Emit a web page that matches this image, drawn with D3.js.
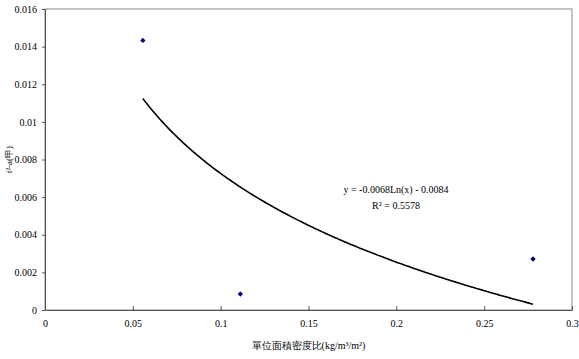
<!DOCTYPE html>
<html><head><meta charset="utf-8">
<script src="https://cdn.jsdelivr.net/npm/d3@7"></script>
<style>body{margin:0;background:#fff}svg{display:block}text{font-family:"Liberation Serif","DejaVu Serif","Times New Roman",serif;fill:#000}</style>
</head><body>
<script>
const xValues = [0.0557, 0.1112, 0.2778];
const yValues = [0.01433, 0.00085, 0.00271];
const xTicks = [0, 0.05, 0.1, 0.15, 0.2, 0.25, 0.3];
const yTicks = [0, 0.002, 0.004, 0.006, 0.008, 0.01, 0.012, 0.014, 0.016];
const trendA = -0.0068, trendB = -0.0084;
const equationLines = ["y = -0.0068Ln(x) - 0.0084", "R² = 0.5578"];
const xLabel = "單位面積密度比(kg/m³/m²)";
const yLabel = "t²-a(甲)";

const W = 579, H = 359;
const m = {l: 45, r: 7, t: 9, b: 49};
const serif = '"Liberation Serif","DejaVu Serif",serif';
const svg = d3.select("body").append("svg").attr("width", W).attr("height", H);
const x = d3.scaleLinear().domain([0, 0.3]).range([m.l, W - m.r]);
const y = d3.scaleLinear().domain([0, 0.016]).range([H - m.b, m.t]);

svg.append("rect").attr("x", m.l).attr("y", m.t).attr("width", W - m.r - m.l).attr("height", H - m.b - m.t)
  .attr("fill", "none").attr("stroke", "#888").attr("stroke-width", 1);

const xa = svg.append("g").attr("transform", `translate(0,${H - m.b})`)
  .call(d3.axisBottom(x).tickValues(xTicks).tickFormat(d => d3.format("")(d)).tickSizeInner(-4).tickSizeOuter(0).tickPadding(10));
const ya = svg.append("g").attr("transform", `translate(${m.l},0)`)
  .call(d3.axisLeft(y).tickValues(yTicks).tickFormat(d => d3.format("")(d)).tickSizeInner(3).tickSizeOuter(0).tickPadding(5));
[xa, ya].forEach(g => {
  g.attr("font-family", serif).attr("font-size", 10);
  g.selectAll(".domain").attr("stroke", "#555");
  g.selectAll(".tick line").attr("stroke", "#555");
  g.selectAll("text").attr("font-family", serif).style("font-family", serif).style("font-size", "10px").attr("fill", "#333");
});

// trendline
const xs = d3.range(0, 201).map(i => d3.min(xValues) + (d3.max(xValues) - d3.min(xValues)) * i / 200);
svg.append("path").datum(xs)
  .attr("d", d3.line().x(d => x(d)).y(d => y(trendA * Math.log(d) + trendB)))
  .attr("fill", "none").attr("stroke", "#000").attr("stroke-width", 1.6);

// points
svg.selectAll(".pt").data(xValues.map((v, i) => [v, yValues[i]])).enter().append("path")
  .attr("d", d3.symbol(d3.symbolDiamond2, 18)())
  .attr("transform", d => `translate(${x(d[0])},${y(d[1])})`)
  .attr("fill", "#000080");

svg.append("text").attr("x", 396).attr("y", 193).attr("text-anchor", "middle").style("font-size", "10px").text(equationLines[0]);
svg.append("text").attr("x", 396).attr("y", 209).attr("text-anchor", "middle").style("font-size", "10px").text(equationLines[1]);

svg.append("text").attr("x", x(0.15)).attr("y", 349).attr("text-anchor", "middle").style("font-size", "10px").attr("fill", "#333").text(xLabel);
svg.append("text").attr("transform", `translate(12,${y(0.008)}) rotate(-90)`).attr("text-anchor", "middle").style("font-size", "9px").attr("fill", "#333").text(yLabel);
</script>
</body></html>
